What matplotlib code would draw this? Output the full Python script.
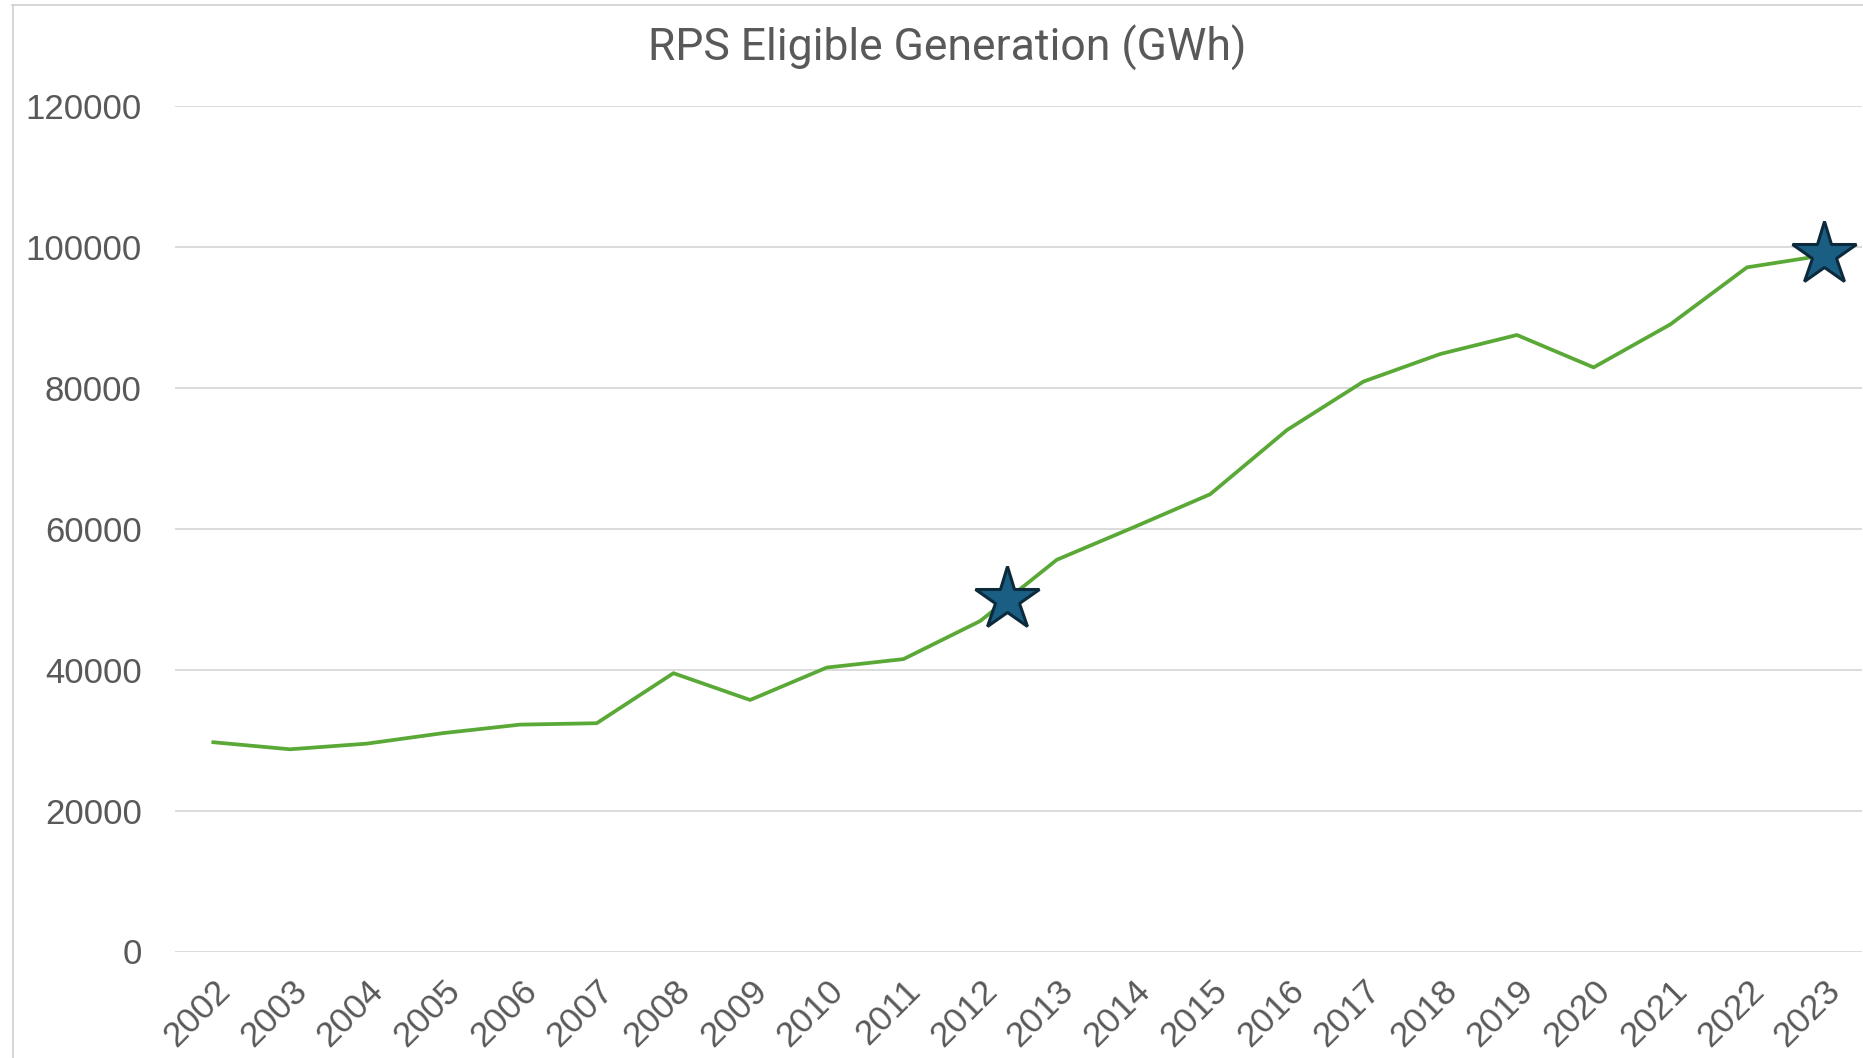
import numpy as np
import matplotlib.pyplot as plt
from matplotlib.lines import Line2D

# data
years = [str(y) for y in range(2002, 2024)]
generation_gwh = [29700, 28700, 29500, 31000, 32200, 32400, 39500, 35700,
                  40300, 41500, 46900, 55600, 60200, 64900, 74000, 80900,
                  84800, 87500, 82900, 89000, 97100, 98800]
star_x = [10.35, 21]
star_y = [50000, 99000]
yticks = [0, 20000, 40000, 60000, 80000, 100000, 120000]

gray = '#595959'
fig = plt.figure(figsize=(18.63, 10.58), dpi=100)
ax = fig.add_axes([175 / 1863, 106.5 / 1058, (1862 - 175) / 1863, (951.5 - 106) / 1058])

x = np.arange(len(years))
ax.plot(x, generation_gwh, color='#5aa937', lw=2.7, solid_joinstyle='round', zorder=3)
ax.plot(star_x, star_y, ls='none', marker='*', ms=48, mfc='#1a5e84',
        mec='#0c2a3c', mew=2.2, zorder=4, clip_on=False)

ax.set_xlim(-0.5, len(years) - 0.5)
ax.set_ylim(0, 120000)
ax.set_yticks(yticks)
ax.set_yticklabels([str(v) for v in yticks])
ax.set_xticks(x)
ax.set_xticklabels(years, rotation=45, ha='right', rotation_mode='anchor')
ax.grid(axis='y', color='#d9d9d9', lw=1.3)
ax.set_axisbelow(True)
for s in ax.spines.values():
    s.set_visible(False)
ax.tick_params(axis='both', length=0, labelcolor=gray)
ax.tick_params(axis='y', pad=24, labelsize=25)
ax.tick_params(axis='x', pad=16, labelsize=25.5)
for lbl in ax.get_xticklabels() + ax.get_yticklabels():
    lbl.set_family('Liberation Sans')

fig.text(947 / 1863, 1 - 48 / 1058, 'RPS Eligible Generation (GWh)', ha='center',
         va='center', fontsize=32, color=gray, family='Roboto')

# faint frame at top and left, as in the cropped source
fig.add_artist(Line2D([12 / 1863, 1], [1 - 4.5 / 1058] * 2, color='#d0d0d0', lw=1.2))
fig.add_artist(Line2D([12.5 / 1863] * 2, [0, 1 - 4.5 / 1058], color='#d0d0d0', lw=1.2))

fig.savefig('out.png', dpi=100)
